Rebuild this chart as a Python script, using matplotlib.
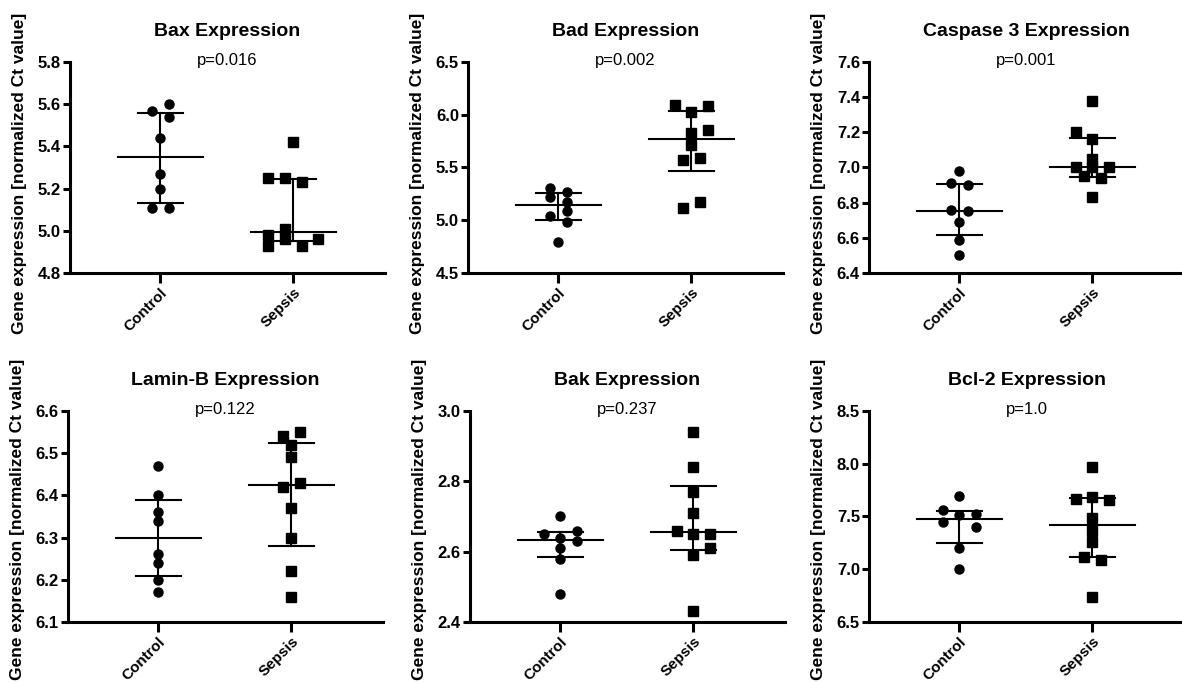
import numpy as np
import matplotlib
matplotlib.use("Agg")
import matplotlib.pyplot as plt
from matplotlib.ticker import MultipleLocator, FormatStrFormatter

plt.rcParams["font.family"] = ["Liberation Sans", "DejaVu Sans"]

groups = ["Control", "Sepsis"]

# values; *_slot = horizontal jitter slot of each point
bax_control = [5.57, 5.60, 5.54, 5.44, 5.27, 5.20, 5.11, 5.11]
bax_control_slot = [-1, 1, 1, 0, 0, 0, -1, 1]
bax_sepsis = [5.42, 5.25, 5.25, 5.23, 4.98, 5.01, 4.96, 4.96, 4.93, 4.93]
bax_sepsis_slot = [0, -3, -1, 1, -3, -1, -1, 3, -3, 1]
bax_stats = [(5.352, 5.131, 5.557), (4.994, 4.953, 5.245)]   # centre, low, high

bad_control = [5.31, 5.27, 5.22, 5.17, 5.09, 5.04, 4.98, 4.79]
bad_control_slot = [-1, 1, -1, 1, 1, -1, 1, 0]
bad_sepsis = [6.09, 6.08, 6.03, 5.83, 5.86, 5.71, 5.57, 5.59, 5.17, 5.12]
bad_sepsis_slot = [-2, 2, 0, 0, 2, 0, -1, 1, 1, -1]
bad_stats = [(5.14, 5.00, 5.26), (5.77, 5.47, 6.04)]

casp_control = [6.98, 6.91, 6.90, 6.76, 6.75, 6.69, 6.59, 6.50]
casp_control_slot = [0, -1, 1, -1, 1, 0, 0, 0]
casp_sepsis = [7.38, 7.20, 7.16, 7.05, 7.00, 7.00, 7.00, 6.95, 6.94, 6.83]
casp_sepsis_slot = [0, -2, 0, 0, 0, -2, 2, -1, 1, 0]
casp_stats = [(6.754, 6.614, 6.907), (7.00, 6.945, 7.17)]

lamin_control = [6.47, 6.40, 6.36, 6.34, 6.26, 6.24, 6.20, 6.17]
lamin_control_slot = [0, 0, 0, 0, 0, 0, 0, 0]
lamin_sepsis = [6.54, 6.55, 6.52, 6.49, 6.42, 6.43, 6.37, 6.30, 6.22, 6.16]
lamin_sepsis_slot = [-1, 1, 0, 0, -1, 1, 0, 0, 0, 0]
lamin_stats = [(6.30, 6.21, 6.39), (6.424, 6.279, 6.524)]

bak_control = [2.70, 2.65, 2.66, 2.64, 2.63, 2.61, 2.58, 2.48]
bak_control_slot = [0, -2, 2, 0, 2, 0, 0, 0]
bak_sepsis = [2.94, 2.84, 2.77, 2.71, 2.66, 2.65, 2.65, 2.61, 2.59, 2.43]
bak_sepsis_slot = [0, 0, 0, 0, -2, 0, 2, 2, 0, 0]
bak_stats = [(2.633, 2.586, 2.657), (2.655, 2.604, 2.787)]

bcl_control = [7.69, 7.565, 7.51, 7.52, 7.45, 7.40, 7.20, 7.00]
bcl_control_slot = [0, -2, 0, 2, -2, 2, 0, 0]
bcl_sepsis = [7.97, 7.67, 7.68, 7.66, 7.49, 7.36, 7.26, 7.12, 7.09, 6.74]
bcl_sepsis_slot = [0, -2, 0, 2, 0, 0, 0, -1, 1, 0]
bcl_stats = [(7.476, 7.248, 7.555), (7.42, 7.118, 7.676)]

panels = [
    ("Bax Expression", "p=0.016", bax_control, bax_control_slot, bax_sepsis, bax_sepsis_slot, bax_stats, (4.8, 5.8), 0.2),
    ("Bad Expression", "p=0.002", bad_control, bad_control_slot, bad_sepsis, bad_sepsis_slot, bad_stats, (4.5, 6.5), 0.5),
    ("Caspase 3 Expression", "p=0.001", casp_control, casp_control_slot, casp_sepsis, casp_sepsis_slot, casp_stats, (6.4, 7.6), 0.2),
    ("Lamin-B Expression", "p=0.122", lamin_control, lamin_control_slot, lamin_sepsis, lamin_sepsis_slot, lamin_stats, (6.1, 6.6), 0.1),
    ("Bak Expression", "p=0.237", bak_control, bak_control_slot, bak_sepsis, bak_sepsis_slot, bak_stats, (2.4, 3.0), 0.2),
    ("Bcl-2 Expression", "p=1.0", bcl_control, bcl_control_slot, bcl_sepsis, bcl_sepsis_slot, bcl_stats, (6.5, 8.5), 0.5),
]

lefts = [0.0592, 0.3959, 0.7352, 0.0575, 0.3976, 0.7352]
bottoms = [0.5997, 0.5997, 0.5997, 0.0880, 0.0880, 0.0880]
label_y = [0.474, 0.474, 0.474, 0.488, 0.488, 0.488]
W, H = 0.2665, 0.3094
JIT = 0.0625

fig = plt.figure(figsize=(11.82, 6.82), dpi=100)

for i, (title, ptxt, c_vals, c_slot, s_vals, s_slot, stats, ylim, step) in enumerate(panels):
    ax = fig.add_axes([lefts[i], bottoms[i], W, H])
    for k, (vals, slots, marker) in enumerate([(c_vals, c_slot, "o"), (s_vals, s_slot, "s")]):
        x = k + np.array(slots) * JIT
        ax.plot(x, vals, linestyle="none", marker=marker, markersize=6.5,
                color="black", zorder=3, clip_on=False)
        centre, low, high = stats[k]
        ax.plot([k - 0.32, k + 0.32], [centre, centre], color="black", lw=1.5, zorder=2)
        ax.plot([k, k], [low, high], color="black", lw=1.5, zorder=2)
        for v in (low, high):
            ax.plot([k - 0.17, k + 0.17], [v, v], color="black", lw=1.5, zorder=2)

    ax.set_xlim(-0.68, 1.69)
    ax.set_ylim(*ylim)
    ax.yaxis.set_major_locator(MultipleLocator(step))
    ax.yaxis.set_major_formatter(FormatStrFormatter("%.1f"))
    ax.set_xticks([0, 1])
    ax.set_xticklabels(groups, rotation=45, ha="right", va="top",
                       rotation_mode="anchor", fontweight="bold", fontsize=11)
    for lab in ax.get_yticklabels():
        lab.set_fontweight("bold")
    ax.tick_params(axis="y", labelsize=12, direction="out", length=5, width=2.2, pad=1.5)
    ax.tick_params(axis="x", direction="out", length=7, width=2.2, pad=2)
    ax.spines["top"].set_visible(False)
    ax.spines["right"].set_visible(False)
    for s in ("left", "bottom"):
        ax.spines[s].set_linewidth(2.2)
    ax.set_ylabel("Gene expression [normalized Ct value]", fontsize=12.5, fontweight="bold")
    ax.yaxis.set_label_coords(-0.135, label_y[i])
    ax.annotate(title, xy=(0.5, 1), xycoords="axes fraction", xytext=(0, 19),
                textcoords="offset points", ha="center", va="baseline",
                fontsize=14, fontweight="bold")
    ax.annotate(ptxt, xy=(0.5, 1), xycoords="axes fraction", xytext=(0, -2.2),
                textcoords="offset points", ha="center", va="baseline", fontsize=12)

fig.savefig("out.png", dpi=100)
